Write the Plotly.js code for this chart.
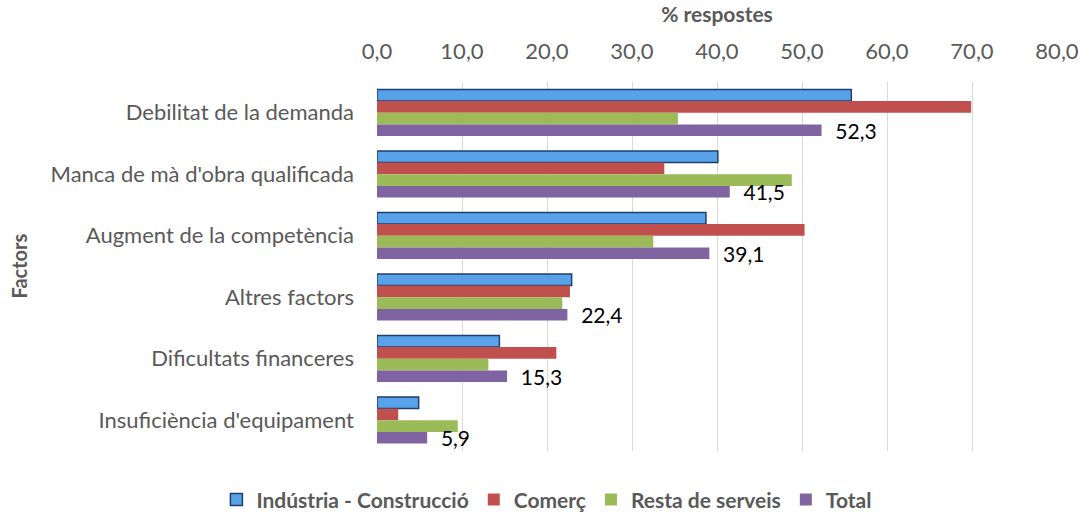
<!DOCTYPE html>
<html>
<head>
<meta charset="utf-8">
<script src="https://cdn.plot.ly/plotly-3.0.1.min.js"></script>
<style>html,body{margin:0;padding:0;background:#fff;}#chart{width:1083px;height:518px;}</style>
</head>
<body>
<div id="chart"></div>
<script>
const categories = ["Debilitat de la demanda", "Manca de mà d'obra qualificada", "Augment de la competència", "Altres factors", "Dificultats financeres", "Insuficiència d'equipament"];
const seriesNames = ["Indústria - Construcció", "Comerç", "Resta de serveis", "Total"];
const industria = [55.8, 40.1, 38.7, 22.9, 14.4, 4.9];
const comerc = [69.9, 33.8, 50.3, 22.7, 21.1, 2.5];
const resta = [35.4, 48.8, 32.5, 21.8, 13.1, 9.5];
const total = [52.3, 41.5, 39.1, 22.4, 15.3, 5.9];
const tickVals = [0, 10, 20, 30, 40, 50, 60, 70, 80];

const font = "Lato, Open Sans, sans-serif";
const colors = ["#58A2EA", "#C0504D", "#9BBB59", "#8064A2"];
const lines = ["#1F3F6E", "#C0504D", "#9BBB59", "#8064A2"];
const values = [industria, comerc, resta, total];

const traces = values.map((v, i) => ({
  type: "bar",
  orientation: "h",
  name: seriesNames[i],
  y: categories,
  x: v,
  marker: {color: colors[i], line: {color: lines[i], width: i === 0 ? 1.5 : 0}},
  texttemplate: i === 3 ? "\u00a0\u00a0%{x:.1f}" : "",
  textposition: i === 3 ? "outside" : "none",
  constraintext: "none",
  textfont: {family: font, size: 21, color: "#000"},
  cliponaxis: false,
  hoverinfo: "x+name"
}));

const layout = {
  width: 1083, height: 518,
  margin: {l: 377, r: 26, t: 82, b: 67},
  separators: ",.",
  barmode: "group",
  bargap: 0.24,
  bargroupgap: 0,
  paper_bgcolor: "#fff",
  plot_bgcolor: "#fff",
  font: {family: font, color: "#595959", size: 22},
  xaxis: {
    side: "top",
    range: [0, 80],
    tickvals: tickVals,
    tickformat: ".1f",
    showgrid: true,
    gridcolor: "#D9D9D9",
    gridwidth: 1,
    zeroline: false,
    showline: false,
    ticks: "",
    ticklabelstandoff: 18,
    automargin: false,
    tickfont: {family: font, size: 22, color: "#595959"},
    title: {text: "<b>% respostes</b>", font: {family: font, size: 21, color: "#595959"}, standoff: 8}
  },
  yaxis: {
    autorange: "reversed",
    showgrid: false,
    zeroline: false,
    ticks: "",
    ticklabelstandoff: 22,
    automargin: false,
    tickfont: {family: font, size: 22, color: "#595959"}
  },
  annotations: [{
    text: "<b>Factors</b>", xref: "paper", yref: "paper",
    x: -(377 - 18) / 680, y: 0.5, xanchor: "center", yanchor: "middle",
    textangle: -90, showarrow: false,
    font: {family: font, size: 20, color: "#595959"}
  }],
  showlegend: true,
  legend: {
    orientation: "h",
    x: 0.505, xref: "container", xanchor: "center",
    y: 0.035, yref: "container", yanchor: "middle",
    font: {family: font, size: 21, color: "#595959", weight: "bold"},
    itemwidth: 30,
    traceorder: "normal"
  }
};

Plotly.newPlot("chart", traces, layout, {displayModeBar: false, staticPlot: true});
</script>
</body>
</html>
